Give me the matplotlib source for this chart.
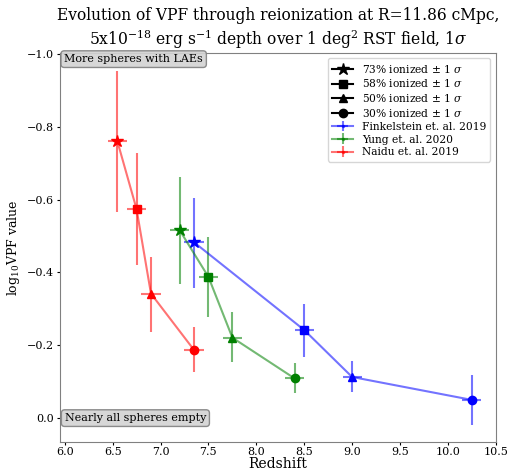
import numpy as np
import matplotlib
matplotlib.use("Agg")
import matplotlib.pyplot as plt
from matplotlib.lines import Line2D

plt.rcParams['font.family'] = 'DejaVu Serif'
plt.rcParams['mathtext.fontset'] = 'dejavuserif'

# Ionization fractions (marker per stage)
etapas = ["73% ionized $\\pm$ 1 $\\sigma$", "58% ionized $\\pm$ 1 $\\sigma$",
          "50% ionized $\\pm$ 1 $\\sigma$", "30% ionized $\\pm$ 1 $\\sigma$"]
marcadores = ["*", "s", "^", "o"]

# Finkelstein et. al. 2019
z_fink = [7.35, 8.5, 9.0, 10.25]
vpf_fink = [-0.483, -0.242, -0.113, -0.050]
err_lo_fink = [0.122, 0.071, 0.043, 0.068]
err_hi_fink = [0.126, 0.073, 0.041, 0.069]

# Yung et. al. 2020
z_yung = [7.2, 7.5, 7.75, 8.4]
vpf_yung = [-0.516, -0.388, -0.221, -0.109]
err_lo_yung = [0.147, 0.110, 0.070, 0.042]
err_hi_yung = [0.147, 0.111, 0.068, 0.041]

# Naidu et. al. 2019
z_naidu = [6.55, 6.75, 6.9, 7.35]
vpf_naidu = [-0.760, -0.574, -0.342, -0.187]
err_lo_naidu = [0.194, 0.155, 0.100, 0.062]
err_hi_naidu = [0.194, 0.154, 0.105, 0.061]

xerr = 0.1

conjuntos = [
    ("Finkelstein et. al. 2019", "blue", z_fink, vpf_fink, err_lo_fink, err_hi_fink),
    ("Yung et. al. 2020", "green", z_yung, vpf_yung, err_lo_yung, err_hi_yung),
    ("Naidu et. al. 2019", "red", z_naidu, vpf_naidu, err_lo_naidu, err_hi_naidu),
]

fig = plt.figure(figsize=(5.08, 4.73), dpi=100)
ax = fig.add_axes([0.118, 0.066, 0.858, 0.822])

handles_dados = []
for nome, cor, z, vpf, elo, ehi in conjuntos:
    h = ax.errorbar(z, vpf, yerr=[elo, ehi], xerr=xerr, color=cor, alpha=0.55,
                    marker='.', markersize=3, label=nome)
    handles_dados.append(h)
    for xi, yi, m in zip(z, vpf, marcadores):
        ms = 9 if m == "*" else 6
        ax.plot(xi, yi, marker=m, color=cor, markersize=ms, linestyle='none')

handles_etapas = []
for rotulo, m in zip(etapas, marcadores):
    ms = 9 if m == "*" else 6
    handles_etapas.append(Line2D([], [], color='black', marker=m, markersize=ms, label=rotulo))

ax.legend(handles=handles_etapas + handles_dados, loc='upper right', fontsize=7.7,
          labelspacing=0.26, borderaxespad=0.5)

ax.set_xlim(5.95, 10.5)
ax.set_ylim(0.065, -1.003)
ax.set_xticks(np.arange(6.0, 10.51, 0.5))
ax.set_yticks([-1.0, -0.8, -0.6, -0.4, -0.2, 0.0])
ax.tick_params(labelsize=8, length=2.5, pad=1.5)
for s in ax.spines.values():
    s.set_color('0.5')

caixa = dict(boxstyle='round,pad=0.3', facecolor='lightgray', edgecolor='gray', alpha=0.9)
ax.text(0.01, 0.997, "More spheres with LAEs", transform=ax.transAxes, fontsize=8,
        va='top', ha='left', bbox=caixa)
ax.text(6.0, 0.0, "Nearly all spheres empty", fontsize=8, va='center', ha='left', bbox=caixa)

ax.set_xlabel("Redshift", fontsize=10, labelpad=0)
ax.set_ylabel("log$_{10}$VPF value", fontsize=9, labelpad=4)
ax.set_title("Evolution of VPF through reionization at R=11.86 cMpc,\n"
             "5x10$^{-18}$ erg s$^{-1}$ depth over 1 deg$^{2}$ RST field, 1$\\sigma$",
             fontsize=11.2, pad=6)

fig.savefig("out.png", dpi=100)
